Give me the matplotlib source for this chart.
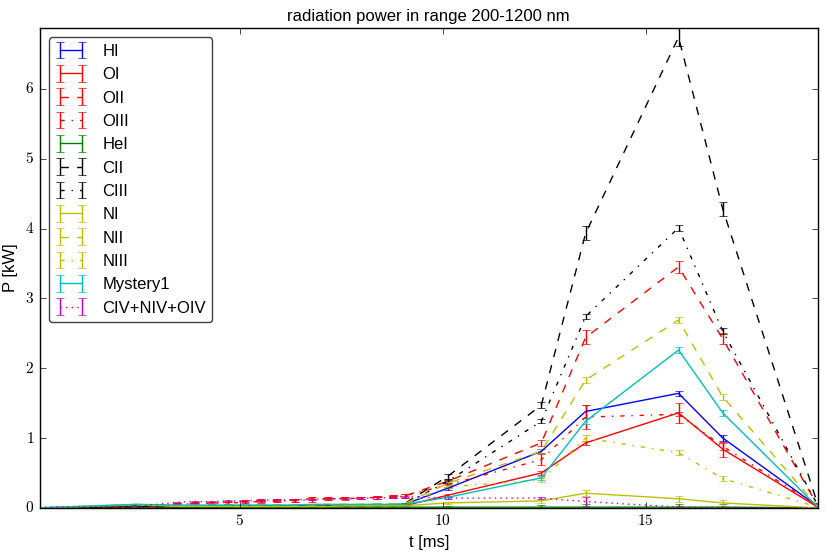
import matplotlib
matplotlib.use("Agg")
import matplotlib.pyplot as plt
from matplotlib.ticker import FuncFormatter

# time base [ms]
t = [0.07, 2.46, 3.45, 3.90, 4.32, 4.72, 5.12, 5.52, 5.93, 6.35, 6.77, 7.17,
     7.59, 7.98, 8.38, 8.77, 9.06, 10.12, 12.43, 13.52, 15.81, 16.90, 19.24]

# radiated power [kW] per line
hi = [0.00, 0.03, 0.02, 0.02, 0.02, 0.03, 0.03, 0.03, 0.03, 0.03, 0.04, 0.04,
      0.04, 0.04, 0.04, 0.05, 0.05, 0.28, 0.81, 1.38, 1.64, 1.00, 0.02]
oi = [0.00, 0.02, 0.01, 0.01, 0.02, 0.02, 0.02, 0.02, 0.02, 0.02, 0.02, 0.03,
      0.03, 0.03, 0.03, 0.03, 0.03, 0.18, 0.50, 0.93, 1.36, 0.84, 0.01]
oii = [0.00, 0.03, 0.05, 0.06, 0.07, 0.08, 0.09, 0.10, 0.10, 0.11, 0.13, 0.13,
       0.14, 0.14, 0.15, 0.16, 0.17, 0.38, 0.93, 2.44, 3.45, 2.42, 0.03]
oiii = [0.00, 0.03, 0.05, 0.06, 0.07, 0.07, 0.08, 0.09, 0.10, 0.10, 0.12, 0.13,
        0.13, 0.14, 0.15, 0.16, 0.17, 0.33, 0.69, 1.30, 1.34, 0.88, 0.03]
hei = [0.00, 0.00, 0.00, 0.00, 0.00, 0.01, 0.01, 0.01, 0.01, 0.01, 0.01, 0.01,
       0.01, 0.01, 0.01, 0.01, 0.01, 0.01, 0.01, 0.01, 0.01, 0.01, 0.00]
cii = [0.00, 0.02, 0.02, 0.02, 0.02, 0.03, 0.03, 0.03, 0.03, 0.03, 0.04, 0.04,
       0.04, 0.04, 0.05, 0.05, 0.06, 0.45, 1.47, 3.93, 6.74, 4.28, 0.05]
ciii = [0.00, 0.02, 0.02, 0.02, 0.02, 0.02, 0.03, 0.03, 0.03, 0.03, 0.03, 0.04,
        0.04, 0.04, 0.04, 0.05, 0.05, 0.38, 1.24, 2.74, 4.01, 2.53, 0.04]
ni = [0.00, 0.05, 0.02, 0.02, 0.02, 0.02, 0.02, 0.02, 0.02, 0.02, 0.02, 0.02,
      0.03, 0.03, 0.03, 0.03, 0.03, 0.07, 0.10, 0.21, 0.13, 0.07, 0.00]
nii = [0.00, 0.04, 0.03, 0.03, 0.03, 0.03, 0.04, 0.04, 0.04, 0.04, 0.04, 0.05,
       0.05, 0.05, 0.05, 0.06, 0.06, 0.35, 0.81, 1.83, 2.69, 1.59, 0.02]
niii = [0.00, 0.04, 0.03, 0.03, 0.03, 0.03, 0.03, 0.04, 0.04, 0.04, 0.04, 0.04,
        0.04, 0.05, 0.05, 0.05, 0.05, 0.30, 0.40, 1.00, 0.79, 0.42, 0.01]
mystery1 = [0.00, 0.05, 0.04, 0.04, 0.04, 0.04, 0.04, 0.04, 0.04, 0.04, 0.05, 0.05,
            0.05, 0.05, 0.05, 0.05, 0.05, 0.15, 0.43, 1.24, 2.26, 1.36, 0.01]
civ = [0.01, 0.02, 0.08, 0.09, 0.09, 0.10, 0.10, 0.11, 0.11, 0.12, 0.12, 0.13,
       0.13, 0.14, 0.14, 0.15, 0.16, 0.14, 0.14, 0.09, 0.01, 0.005, 0.00]

# one-sigma errors (mostly tiny at low t)
err_small = [0.005, 0.01, 0.01, 0.01, 0.01, 0.01, 0.01, 0.01, 0.01, 0.01, 0.01, 0.01,
             0.01, 0.01, 0.01, 0.01, 0.01, 0.02, 0.03, 0.04, 0.04, 0.04, 0.01]
err_hi = [0.005, 0.01, 0.01, 0.01, 0.01, 0.01, 0.01, 0.01, 0.01, 0.01, 0.01, 0.01,
          0.01, 0.01, 0.01, 0.01, 0.01, 0.02, 0.03, 0.10, 0.04, 0.04, 0.01]
err_oi = [0.005, 0.01, 0.01, 0.01, 0.01, 0.01, 0.01, 0.01, 0.01, 0.01, 0.01, 0.01,
          0.01, 0.01, 0.01, 0.01, 0.01, 0.02, 0.03, 0.03, 0.14, 0.11, 0.01]
err_oii = [0.005, 0.01, 0.02, 0.02, 0.02, 0.02, 0.02, 0.02, 0.02, 0.02, 0.02, 0.02,
           0.02, 0.02, 0.02, 0.02, 0.03, 0.04, 0.04, 0.10, 0.08, 0.08, 0.01]
err_oiii = [0.005, 0.01, 0.02, 0.02, 0.02, 0.02, 0.02, 0.02, 0.02, 0.02, 0.03, 0.02,
            0.02, 0.02, 0.02, 0.02, 0.03, 0.05, 0.08, 0.17, 0.03, 0.05, 0.01]
err_cii = [0.005, 0.01, 0.01, 0.01, 0.01, 0.01, 0.01, 0.01, 0.01, 0.01, 0.01, 0.01,
           0.01, 0.01, 0.01, 0.01, 0.01, 0.03, 0.04, 0.10, 0.13, 0.10, 0.02]
err_civ = [0.005, 0.01, 0.01, 0.01, 0.01, 0.01, 0.01, 0.01, 0.01, 0.01, 0.01, 0.01,
           0.01, 0.01, 0.01, 0.01, 0.01, 0.02, 0.02, 0.07, 0.01, 0.01, 0.00]

series = [
    ("HI", hi, err_hi, "b", "-"),
    ("OI", oi, err_oi, "r", "-"),
    ("OII", oii, err_oii, "r", "--"),
    ("OIII", oiii, err_oiii, "r", "-."),
    ("HeI", hei, err_small, "g", "-"),
    ("CII", cii, err_cii, "k", "--"),
    ("CIII", ciii, err_small, "k", "-."),
    ("NI", ni, err_small, "y", "-"),
    ("NII", nii, err_small, "y", "--"),
    ("NIII", niii, err_small, "y", "-."),
    ("Mystery1", mystery1, err_small, "c", "-"),
    ("CIV+NIV+OIV", civ, err_civ, "m", ":"),
]

plt.style.use("classic")
plt.rcParams["font.family"] = ["Liberation Sans", "DejaVu Sans"]
plt.rcParams["mathtext.fontset"] = "cm"

fig = plt.figure(figsize=(8.26, 5.52), dpi=100, facecolor="white")
ax = fig.add_axes([0.048, 0.080, 0.942, 0.869])

for name, vals, errs, col, ls in series:
    ax.errorbar(t, vals, yerr=errs, color=col, linestyle=ls, linewidth=1,
                capsize=3, label=name)

ax.set_xlim(0.07, 19.24)
ax.set_ylim(0, 6.87)
ax.set_xticks([5, 10, 15])
ax.set_yticks([0, 1, 2, 3, 4, 5, 6])
ax.xaxis.set_major_formatter(FuncFormatter(lambda v, p: "$%g$" % v))
ax.yaxis.set_major_formatter(FuncFormatter(lambda v, p: "$%g$" % v))
ax.tick_params(labelsize=11)

ax.set_title("radiation power in range 200-1200 nm", fontsize=12)
ax.set_xlabel("t [ms]", fontsize=12)
ax.set_ylabel("P [kW]", fontsize=12)
leg = ax.legend(loc="upper left", fontsize=12, numpoints=2, handlelength=1.9,
                handletextpad=0.9, labelspacing=0.5, borderaxespad=0.55,
                fancybox=True)
leg.get_frame().set_edgecolor("0.25")

fig.savefig("out.png", dpi=100, facecolor="white")
